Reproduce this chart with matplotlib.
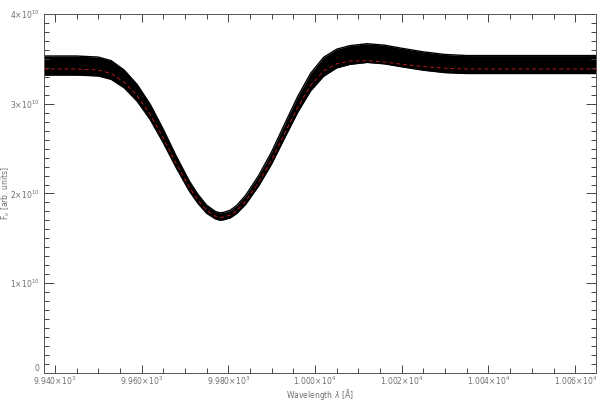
import matplotlib
matplotlib.use("Agg")
import matplotlib.pyplot as plt
from matplotlib.ticker import FixedLocator, MultipleLocator

# wavelength samples (Angstrom) and flux envelope of the curve bundle (units of 1e10)
wavelength = [9937.5, 9945, 9950, 9953, 9956, 9959, 9962, 9965, 9968, 9971,
              9973, 9975, 9977, 9978, 9979, 9980.5, 9982, 9984, 9987, 9990,
              9993, 9996, 9999, 10002, 10005, 10008, 10012, 10016, 10020,
              10025, 10030, 10035, 10045, 10065]
flux_upper = [3.532, 3.532, 3.520, 3.480, 3.375, 3.213, 2.993, 2.716, 2.416, 2.140,
              1.990, 1.870, 1.800, 1.785, 1.790, 1.815, 1.870, 1.980, 2.200, 2.465,
              2.775, 3.080, 3.340, 3.518, 3.608, 3.647, 3.669, 3.653, 3.618,
              3.578, 3.549, 3.537, 3.537, 3.537]
flux_lower = [3.320, 3.320, 3.310, 3.272, 3.177, 3.027, 2.823, 2.566, 2.286, 2.028,
              1.890, 1.780, 1.718, 1.703, 1.708, 1.730, 1.780, 1.880, 2.085, 2.330,
              2.620, 2.905, 3.145, 3.308, 3.400, 3.439, 3.461, 3.445, 3.412,
              3.374, 3.347, 3.337, 3.337, 3.337]
flux_model = [3.387, 3.387, 3.376, 3.338, 3.240, 3.087, 2.880, 2.618, 2.333, 2.070,
              1.925, 1.812, 1.748, 1.733, 1.738, 1.760, 1.812, 1.915, 2.125, 2.375,
              2.670, 2.960, 3.205, 3.365, 3.445, 3.475, 3.480, 3.465, 3.440,
              3.415, 3.395, 3.387, 3.387, 3.387]

x_ticks = [9940, 9960, 9980, 10000, 10020, 10040, 10060]
x_labels = [r"9.940$\times$10$^{3}$", r"9.960$\times$10$^{3}$", r"9.980$\times$10$^{3}$",
            r"1.000$\times$10$^{4}$", r"1.002$\times$10$^{4}$", r"1.004$\times$10$^{4}$",
            r"1.006$\times$10$^{4}$"]
y_ticks = [0, 1e10, 2e10, 3e10, 4e10]
y_labels = ["0", r"1$\times$10$^{10}$", r"2$\times$10$^{10}$", r"3$\times$10$^{10}$",
            r"4$\times$10$^{10}$"]

scale = 1e10
up = [v * scale for v in flux_upper]
lo = [v * scale for v in flux_lower]
mod = [v * scale for v in flux_model]

fig = plt.figure(figsize=(6.0, 4.01), dpi=100)
ax = fig.add_axes([44 / 600, 28 / 401, 552 / 600, 359 / 401])

ax.fill_between(wavelength, lo, up, color="black", linewidth=0)
ax.plot(wavelength, up, color="black", lw=1.0)
ax.plot(wavelength, lo, color="black", lw=1.0)
ax.plot(wavelength, mod, color="#b81818", lw=0.7, dashes=(4, 3))

ax.set_xlim(9937.5, 10064.8)
ax.set_ylim(0, 4e10)

grey = "#707070"
ax.xaxis.set_major_locator(FixedLocator(x_ticks))
ax.xaxis.set_minor_locator(MultipleLocator(5))
ax.set_xticklabels(x_labels)
ax.yaxis.set_major_locator(FixedLocator(y_ticks))
ax.yaxis.set_minor_locator(MultipleLocator(1e9))
ax.set_yticklabels(y_labels)
ax.get_yticklabels()[0].set_va("bottom")

ax.tick_params(which="both", direction="in", top=True, right=True,
               color="#444444", width=0.7, labelsize=5.5, labelcolor=grey)
ax.tick_params(axis="x", which="major", length=6, pad=1.2)
ax.tick_params(axis="x", which="minor", length=3.5)
ax.tick_params(axis="y", which="major", length=7, pad=3)
ax.tick_params(axis="y", which="minor", length=3.5)
for s in ax.spines.values():
    s.set_color("#555555")
    s.set_linewidth(0.7)

ax.set_xlabel(r"Wavelength $\lambda$ [Å]", fontsize=5.5, color=grey)
ax.xaxis.set_label_coords(0.5, -0.039)
ax.set_ylabel(r"F$_\nu$ [arb. units]", fontsize=5.5, color=grey)
ax.yaxis.set_label_coords(-0.058, 0.5)

fig.savefig("out.png", dpi=100)
